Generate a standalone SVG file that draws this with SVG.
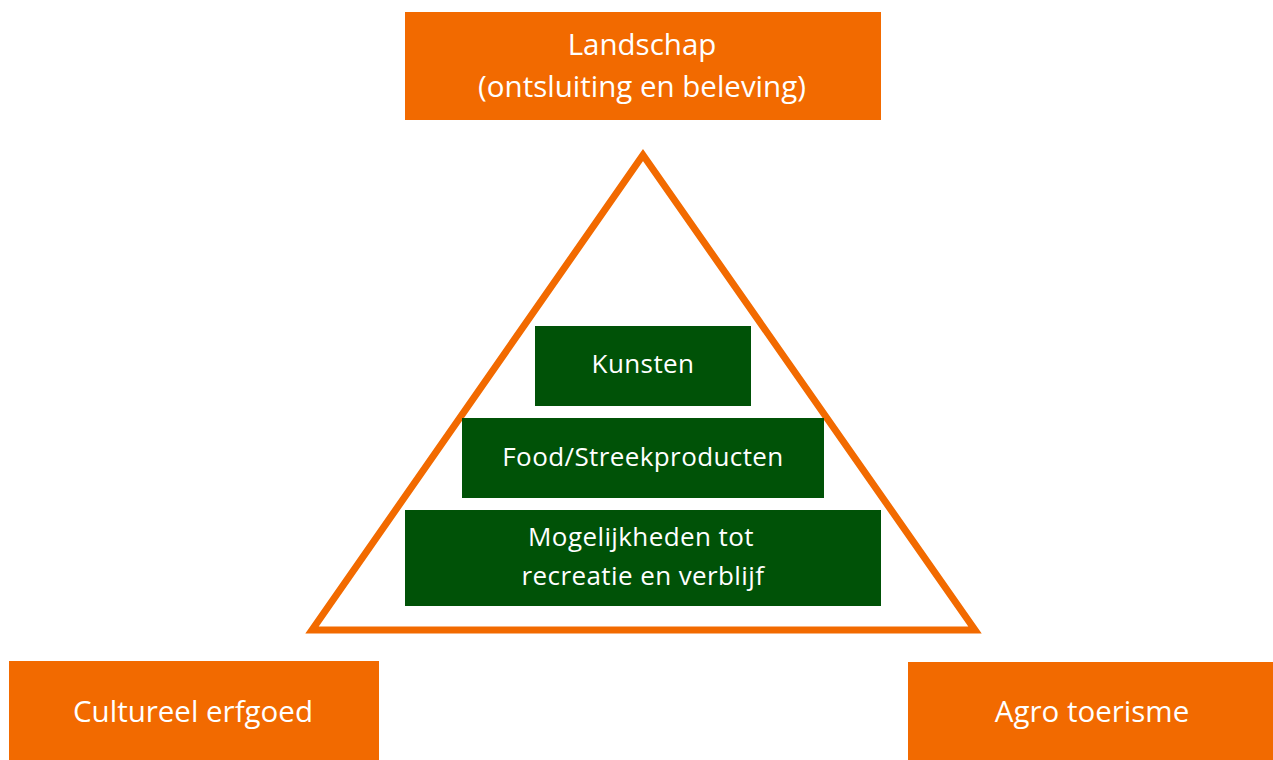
<svg xmlns="http://www.w3.org/2000/svg" width="1273" height="760" viewBox="0 0 1273 760">
<style>
.o{fill:#F26A00}
.g{fill:#005207}
text{font-family:"Open Sans","Liberation Sans",sans-serif;fill:#ffffff;text-anchor:middle}
.t1{font-size:29.5px}
.t2{font-size:26px;letter-spacing:0.4px}
</style>
<rect width="1273" height="760" fill="#ffffff"/>
<g id="connectors">
<polygon points="643,155 312,630 975,630" fill="none" stroke="#F26A00" stroke-width="7" stroke-linejoin="miter"/>
</g>
<g id="landschap">
<rect class="o" x="405" y="12" width="476" height="108"/>
<text class="t1" x="642" y="55">Landschap</text>
<text class="t1" x="642" y="97">(ontsluiting en beleving)</text>
</g>
<g id="kunsten">
<rect class="g" x="535" y="326" width="216" height="80"/>
<text class="t2" x="643" y="373">Kunsten</text>
</g>
<g id="food">
<rect class="g" x="462" y="418" width="362" height="80"/>
<text class="t2" x="643" y="466">Food/Streekproducten</text>
</g>
<g id="mogelijkheden">
<rect class="g" x="405" y="510" width="476" height="96"/>
<text class="t2" x="641" y="546">Mogelijkheden tot</text>
<text class="t2" x="643" y="585">recreatie en verblijf</text>
</g>
<g id="cultureel">
<rect class="o" x="9" y="661" width="370" height="99"/>
<text class="t1" x="193" y="722">Cultureel erfgoed</text>
</g>
<g id="agro">
<rect class="o" x="908" y="662" width="365" height="98"/>
<text class="t1" x="1092" y="722">Agro toerisme</text>
</g>
</svg>
